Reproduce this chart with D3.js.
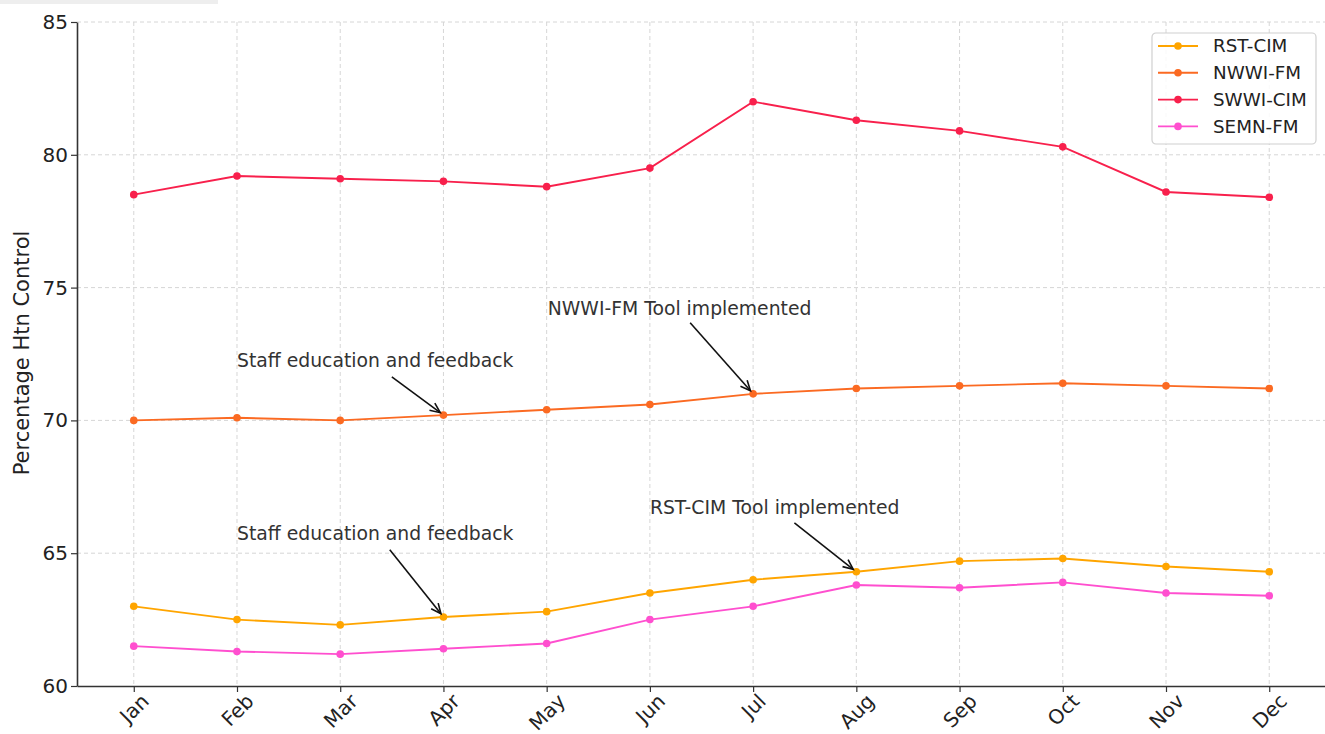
<!DOCTYPE html>
<html>
<head>
<meta charset="utf-8">
<script src="https://cdn.jsdelivr.net/npm/d3@7"></script>
<style>
  html, body { margin: 0; padding: 0; background: #fff; }
  svg { display: block; font-family: "DejaVu Sans", sans-serif; }
</style>
</head>
<body>
<svg id="chart" width="1325" height="734"></svg>
<script>
// ---- data ----
const months = ["Jan","Feb","Mar","Apr","May","Jun","Jul","Aug","Sep","Oct","Nov","Dec"];
const seriesNames = ["RST-CIM","NWWI-FM","SWWI-CIM","SEMN-FM"];
const rstCim  = [63.0, 62.5, 62.3, 62.6, 62.8, 63.5, 64.0, 64.3, 64.7, 64.8, 64.5, 64.3];
const nwwiFm  = [70.0, 70.1, 70.0, 70.2, 70.4, 70.6, 71.0, 71.2, 71.3, 71.4, 71.3, 71.2];
const swwiCim = [78.5, 79.2, 79.1, 79.0, 78.8, 79.5, 82.0, 81.3, 80.9, 80.3, 78.6, 78.4];
const semnFm  = [61.5, 61.3, 61.2, 61.4, 61.6, 62.5, 63.0, 63.8, 63.7, 63.9, 63.5, 63.4];
const yTicks = [60, 65, 70, 75, 80, 85];
const yLabel = "Percentage Htn Control";
// annotations: text, text anchor (month index, value), arrow start (index, value), arrow target (month, value)
const annoText   = ["Staff education and feedback","NWWI-FM Tool implemented","Staff education and feedback","RST-CIM Tool implemented"];
const annoTextAt = [[1.0, 72.27],[4.01, 74.2],[1.0, 65.76],[5.0, 66.74]];
const annoFrom   = [[2.50, 71.64],[5.39, 73.68],[2.48, 65.13],[6.40, 66.14]];
const annoTarget = [["Apr", 70.2],["Jul", 71.0],["Apr", 62.6],["Aug", 64.3]];

const colors = ["#ffa500", "#fb6a22", "#f8204c", "#ff4fcf"];
const allSeries = [rstCim, nwwiFm, swwiCim, semnFm];

// ---- layout ----
const svg = d3.select("#chart");
const mLeft = 77, mRight = 1326, mTop = 22, mBottom = 686;

const x = d3.scalePoint().domain(months).range([mLeft, mRight]).padding(0.55);
const xi = d3.scaleLinear().domain([0, 11]).range([x("Jan"), x("Dec")]);
const y = d3.scaleLinear().domain([60, 85]).range([mBottom, mTop]);

// faint top-left artifact
svg.append("rect").attr("x", 0).attr("y", 0).attr("width", 218).attr("height", 4).attr("fill", "#eeeeee");

// grid
const grid = svg.append("g").attr("stroke", "#d6d6d6").attr("stroke-width", 1).attr("stroke-dasharray", "4,3");
grid.selectAll("line.h").data(yTicks.filter(t => t > 60)).join("line").attr("class", "h")
  .attr("x1", mLeft).attr("x2", mRight).attr("y1", d => y(d)).attr("y2", d => y(d));
grid.selectAll("line.v").data(months).join("line").attr("class", "v")
  .attr("y1", mTop).attr("y2", mBottom).attr("x1", d => x(d)).attr("x2", d => x(d));

// axes
const xAxis = svg.append("g").attr("transform", `translate(0,${mBottom})`)
  .call(d3.axisBottom(x).tickSize(6).tickSizeOuter(0));
const yAxis = svg.append("g").attr("transform", `translate(${mLeft},0)`)
  .call(d3.axisLeft(y).tickValues(yTicks).tickSize(6).tickSizeOuter(0));
[xAxis, yAxis].forEach(a => {
  a.select(".domain").attr("stroke", "#333").attr("stroke-width", 1.6);
  a.selectAll(".tick line").attr("stroke", "#333").attr("stroke-width", 1.2);
  a.selectAll("text").attr("fill", "#222").style("font-family", "DejaVu Sans, sans-serif");
});
yAxis.selectAll("text").attr("font-size", 20).attr("x", -9);
// rotated month labels, bounding box centred on tick (like matplotlib ha=center)
const fsX = 20;
xAxis.selectAll(".tick text").attr("font-size", fsX)
  .attr("text-anchor", "middle").attr("dy", null).attr("x", 0).attr("y", 0)
  .attr("dominant-baseline", "central")
  .each(function () {
    const w = this.getComputedTextLength();
    const h = fsX * 0.78;
    const half = (w + h) * Math.SQRT1_2 / 2;
    d3.select(this).attr("transform", `translate(0,${6 + half}) rotate(-45)`);
  });

// y label
svg.append("text").attr("transform", `translate(29,${(mTop + mBottom) / 2 - 1}) rotate(-90)`)
  .attr("text-anchor", "middle").attr("font-size", 21).attr("fill", "#222").text(yLabel);

// lines
const line = d3.line().x((d, i) => x(months[i])).y(d => y(d));
allSeries.forEach((s, k) => {
  svg.append("path").datum(s).attr("d", line).attr("fill", "none")
    .attr("stroke", colors[k]).attr("stroke-width", 1.9);
  svg.append("g").selectAll("circle").data(s).join("circle")
    .attr("cx", (d, i) => x(months[i])).attr("cy", d => y(d)).attr("r", 3.8)
    .attr("fill", colors[k]);
});

// annotations
annoText.forEach((t, k) => {
  svg.append("text").attr("x", xi(annoTextAt[k][0])).attr("y", y(annoTextAt[k][1]))
    .attr("dy", "0.35em").attr("font-size", 18.8).attr("fill", "#333").text(t);
  const x1 = xi(annoFrom[k][0]), y1 = y(annoFrom[k][1]);
  const x2 = x(annoTarget[k][0]), y2 = y(annoTarget[k][1]);
  const ang = Math.atan2(y2 - y1, x2 - x1);
  const ex = x2 - Math.cos(ang) * 4, ey = y2 - Math.sin(ang) * 4;
  svg.append("line").attr("x1", x1).attr("y1", y1).attr("x2", ex).attr("y2", ey)
    .attr("stroke", "#111").attr("stroke-width", 1.6);
  const hl = 11, ha = 0.42;
  const p1 = [ex - hl * Math.cos(ang - ha), ey - hl * Math.sin(ang - ha)];
  const p2 = [ex - hl * Math.cos(ang + ha), ey - hl * Math.sin(ang + ha)];
  svg.append("path").attr("d", `M${p1[0]},${p1[1]}L${ex},${ey}L${p2[0]},${p2[1]}`)
    .attr("fill", "none").attr("stroke", "#111").attr("stroke-width", 1.6);
});

// legend
const lg = svg.append("g").attr("transform", "translate(1152,33)");
lg.append("rect").attr("width", 164).attr("height", 111).attr("rx", 4)
  .attr("fill", "#fff").attr("fill-opacity", 0.85).attr("stroke", "#d0d0d0").attr("stroke-width", 1.2);
seriesNames.forEach((n, k) => {
  const yy = 13 + k * 26.8;
  lg.append("line").attr("x1", 6).attr("x2", 46).attr("y1", yy).attr("y2", yy)
    .attr("stroke", colors[k]).attr("stroke-width", 1.9);
  lg.append("circle").attr("cx", 26).attr("cy", yy).attr("r", 3.8).attr("fill", colors[k]);
  lg.append("text").attr("x", 61).attr("y", yy).attr("dy", "0.35em")
    .attr("font-size", 18.3).attr("fill", "#222").text(n);
});
</script>
</body>
</html>
